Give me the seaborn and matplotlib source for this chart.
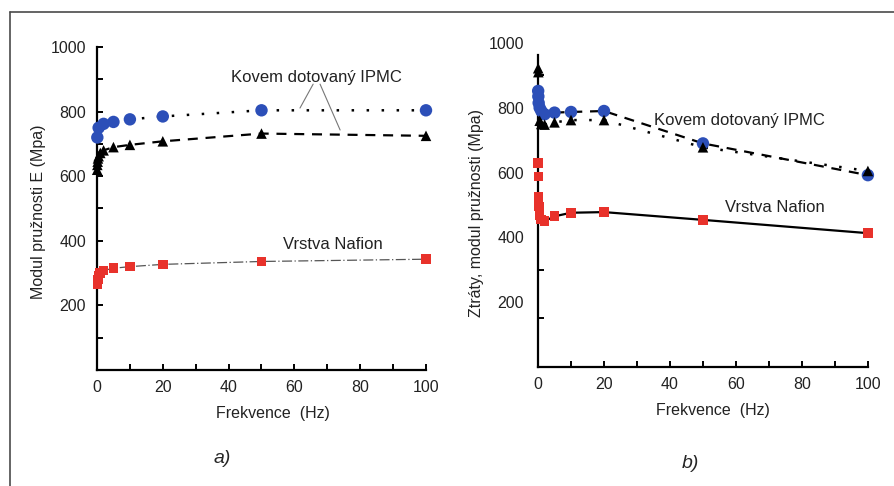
import numpy as np
import pandas as pd
import seaborn as sns
from matplotlib import pyplot as plt
from matplotlib.lines import Line2D

# Panel a) - modul pruznosti E vs frekvence
a_blue_f = [0.1, 0.5, 2, 5, 10, 20, 50, 100]
a_blue_v = [720, 750, 762, 768, 776, 785, 804, 804]
a_black_f = [0.05, 0.1, 0.2, 0.3, 0.5, 1, 2, 5, 10, 20, 50, 100]
a_black_v = [620, 635, 645, 655, 662, 672, 680, 690, 697, 708, 732, 725]
a_red_f = [0.1, 0.3, 0.5, 1, 2, 5, 10, 20, 50, 100]
a_red_v = [265, 280, 292, 300, 308, 315, 320, 327, 336, 343]

# Panel b) - ztraty, modul pruznosti vs frekvence
b_blue_f = [0.05, 0.1, 0.2, 0.5, 1, 2, 5, 10, 20, 50, 100]
b_blue_v = [852, 835, 815, 800, 790, 780, 785, 787, 790, 690, 592]
b_black_f = [0.05, 0.1, 0.5, 1, 2, 5, 10, 20, 50, 100]
b_black_v = [922, 910, 760, 750, 748, 755, 762, 762, 678, 605]
b_red_f = [0.05, 0.1, 0.2, 0.3, 0.5, 1, 2, 5, 10, 20, 50, 100]
b_red_v = [630, 588, 525, 495, 470, 455, 450, 465, 476, 478, 454, 413]

x_major = [0, 20, 40, 60, 80, 100]
x_minor = [10, 30, 50, 70, 90]

BLUE = '#2c4fb8'
RED = '#e8322b'

sns.set_style("white")
plt.rcParams['font.family'] = ['Liberation Sans', 'DejaVu Sans']

fig = plt.figure(figsize=(8.94, 4.86), dpi=100)
ax_a = fig.add_axes([0.1085, 0.2387, 0.368, 0.6646])
ax_b = fig.add_axes([0.6018, 0.2449, 0.369, 0.6667])


def draw(ax, f, v, color, marker, ms, line_start, ls, lw, lcolor='black'):
    sns.lineplot(x=f[line_start:], y=v[line_start:], ax=ax, color=lcolor, lw=lw,
                 linestyle=ls, estimator=None, sort=False, zorder=2)
    sns.scatterplot(x=f, y=v, ax=ax, color=color, marker=marker, s=ms,
                    edgecolor='none', zorder=3, clip_on=False)


# a)
draw(ax_a, a_blue_f, a_blue_v, BLUE, 'o', 80, 1, (0, (1, 5)), 1.8)
draw(ax_a, a_black_f, a_black_v, 'black', '^', 58, 0, (0, (4.5, 3.5)), 1.6)
draw(ax_a, a_red_f, a_red_v, RED, 's', 48, 0, (0, (8, 2, 1, 2)), 0.9, '#555555')

# b)
draw(ax_b, b_blue_f, b_blue_v, BLUE, 'o', 80, 6, (0, (4.5, 3.5)), 1.6)
draw(ax_b, b_black_f, b_black_v, 'black', '^', 58, 4, (0, (1, 5)), 1.8)
draw(ax_b, b_red_f, b_red_v, RED, 's', 48, 5, '-', 1.6)

for ax in (ax_a, ax_b):
    ax.set_xlim(0, 100)
    ax.set_ylim(0, 1000)
    for s in ['top', 'right']:
        ax.spines[s].set_visible(False)
    for s in ['left', 'bottom']:
        ax.spines[s].set_linewidth(1.6)
        ax.spines[s].set_color('black')
    ax.set_xticks(x_major)
    ax.set_xticks(x_minor, minor=True)
    ax.tick_params(axis='x', which='both', direction='in', length=4, width=1.4,
                   bottom=True, labelsize=11.5, pad=7, colors='black',
                   labelcolor='#222222')
    ax.tick_params(axis='y', which='both', direction='in', width=1.4, left=True,
                   labelsize=11.5, colors='black', labelcolor='#222222')
    ax.set_facecolor('white')

# a) y ticks every 100, labels every 200
ax_a.set_yticks([200, 400, 600, 800, 1000])
ax_a.set_yticks([100, 300, 500, 700, 900], minor=True)
ax_a.tick_params(axis='y', which='both', length=4, pad=8)
ax_a.spines['left'].set_bounds(0, 1000)

# b) labels and tick marks do not line up in the original
ax_b.set_yticks([200, 400, 600, 800, 1000])
ax_b.set_yticks([150, 300, 450, 600, 750, 900], minor=True)
ax_b.tick_params(axis='y', which='major', length=0, pad=10)
ax_b.tick_params(axis='y', which='minor', length=4)
ax_b.spines['left'].set_bounds(0, 963)

ax_a.set_xlabel('Frekvence  (Hz)', fontsize=11.5, color='#222222')
ax_a.set_ylabel('Modul pružnosti E (Mpa)', fontsize=11.5, color='#222222')
ax_a.xaxis.set_label_coords(0.535, -0.112)
ax_a.yaxis.set_label_coords(-0.155, 0.49)

ax_b.set_xlabel('Frekvence  (Hz)', fontsize=11.5, color='#222222')
ax_b.set_ylabel('Ztráty, modul pružnosti (Mpa)', fontsize=11.5, color='#222222')
ax_b.xaxis.set_label_coords(0.53, -0.112)
ax_b.yaxis.set_label_coords(-0.164, 0.475)

# annotations
ax_a.text(66.6, 907, 'Kovem dotovaný IPMC', ha='center', va='center', fontsize=12, color='#222222')
ax_a.plot([65.7, 61.7], [885, 811], color='#777777', lw=0.8)
ax_a.plot([67.8, 73.9], [885, 743], color='#777777', lw=0.8)
ax_a.text(71.7, 387, 'Vrstva Nafion', ha='center', va='center', fontsize=12, color='#222222')

ax_b.text(61.2, 762, 'Kovem dotovaný IPMC', ha='center', va='center', fontsize=12, color='#222222')
ax_b.text(71.8, 491, 'Vrstva Nafion', ha='center', va='center', fontsize=12, color='#222222')

fig.text(222 / 894, 1 - 458 / 486, 'a)', ha='center', va='center', fontsize=14, style='italic')
fig.text(690 / 894, 1 - 463 / 486, 'b)', ha='center', va='center', fontsize=14, style='italic')

# outer frame (top and left only)
fig.add_artist(Line2D([10 / 894, 1], [1 - 12 / 486, 1 - 12 / 486], color='#4a4a4a', lw=1.2))
fig.add_artist(Line2D([10 / 894, 10 / 894], [0, 1 - 12 / 486], color='#4a4a4a', lw=1.2))

plt.savefig('out.png', dpi=100)
